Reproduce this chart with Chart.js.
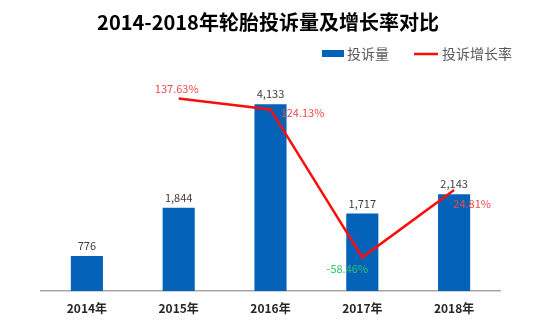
<!DOCTYPE html>
<html>
<head>
<meta charset="utf-8">
<script src="https://cdn.jsdelivr.net/npm/chart.js@4/dist/chart.umd.min.js"></script>
<style>
  html, body { margin: 0; padding: 0; background: #fff; }
  #wrap { width: 538px; height: 324px; position: relative; }
</style>
</head>
<body>
<div id="wrap"><canvas id="c" width="538" height="324"></canvas></div>
<script>
const titleText = '2014-2018年轮胎投诉量及增长率对比';
const years = ['2014年', '2015年', '2016年', '2017年', '2018年'];
const complaints = [776, 1844, 4133, 1717, 2143];
const growthRate = [null, 137.63, 124.13, -58.46, 24.81];
const barLabel = '投诉量';
const lineLabel = '投诉增长率';

const BLUE = '#0562B9';
const RED = '#FF0D0D';
const FONT = '"Noto Sans CJK SC", "Noto Sans", sans-serif';

// Offsets of each growth label from its point (dx, dy) and its colour
const rateLabelStyle = [
  null,
  { dx: -2, dy: -10, color: '#F5474B' },
  { dx: 32, dy: 3, color: '#F5474B' },
  { dx: -15, dy: 11, color: '#2DC66A' },
  { dx: 18, dy: 14, color: '#F5474B' }
];

const fmtNum = v => v.toLocaleString('en-US');

const decorations = {
  id: 'decorations',
  afterDraw(chart) {
    const ctx = chart.ctx;
    ctx.save();
    // title
    ctx.font = 'bold 20px ' + FONT;
    ctx.fillStyle = '#000';
    ctx.textAlign = 'center';
    ctx.textBaseline = 'middle';
    ctx.fillText(titleText, 268, 22);

    // legend
    ctx.font = '14px ' + FONT;
    ctx.textAlign = 'left';
    ctx.fillStyle = BLUE;
    ctx.fillRect(322, 50, 22, 7);
    ctx.fillStyle = '#595959';
    ctx.fillText(barLabel, 347, 54);
    ctx.strokeStyle = RED;
    ctx.lineWidth = 2.5;
    ctx.beginPath();
    ctx.moveTo(414, 54);
    ctx.lineTo(438, 54);
    ctx.stroke();
    ctx.fillText(lineLabel, 442, 54);

    // bar value labels
    const barMeta = chart.getDatasetMeta(0);
    ctx.font = '11px ' + FONT;
    ctx.textAlign = 'center';
    ctx.fillStyle = '#404040';
    barMeta.data.forEach((el, i) => {
      ctx.fillText(fmtNum(complaints[i]), el.x, el.y - 10);
    });

    // growth rate labels
    const lineMeta = chart.getDatasetMeta(1);
    lineMeta.data.forEach((el, i) => {
      const v = growthRate[i];
      const st = rateLabelStyle[i];
      if (v === null || !st) return;
      ctx.fillStyle = st.color;
      ctx.fillText(v.toFixed(2) + '%', el.x + st.dx, el.y + st.dy);
    });
    ctx.restore();
  }
};

new Chart(document.getElementById('c'), {
  data: {
    labels: years,
    datasets: [
      {
        type: 'bar',
        label: barLabel,
        data: complaints,
        backgroundColor: BLUE,
        barPercentage: 0.35,
        categoryPercentage: 1,
        yAxisID: 'y',
        order: 2
      },
      {
        type: 'line',
        label: lineLabel,
        data: growthRate,
        borderColor: RED,
        borderWidth: 2.5,
        pointRadius: 0,
        tension: 0,
        spanGaps: false,
        yAxisID: 'y1',
        order: 1
      }
    ]
  },
  plugins: [decorations],
  options: {
    responsive: false,
    animation: false,
    layout: { padding: { top: 65, left: 41, right: 38, bottom: 0 } },
    plugins: {
      legend: { display: false },
      title: { display: false },
      tooltip: { enabled: false }
    },
    scales: {
      x: {
        grid: { display: false, drawTicks: false },
        border: { display: true, color: '#A6A6A6', width: 1.5 },
        ticks: {
          color: '#262626',
          font: { family: FONT, size: 12, weight: 'bold' },
          padding: 10
        },
        afterFit(scale) { scale.height = 33; }
      },
      y: {
        display: false,
        min: 0,
        max: 5000
      },
      y1: {
        display: false,
        position: 'right',
        min: -100,
        max: 179
      }
    }
  }
});
</script>
</body>
</html>
